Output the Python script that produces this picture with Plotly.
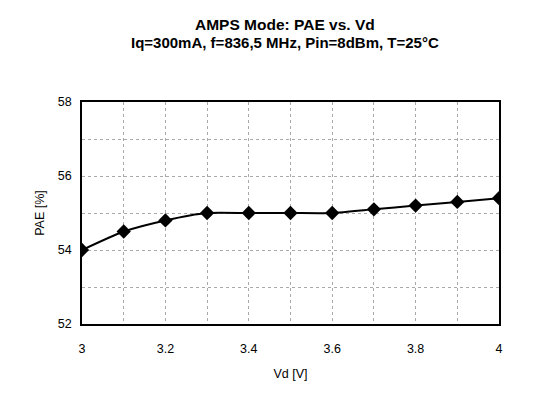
import plotly.graph_objects as go

vd = [3.0, 3.1, 3.2, 3.3, 3.4, 3.5, 3.6, 3.7, 3.8, 3.9, 4.0]
pae = [54.0, 54.5, 54.8, 55.0, 55.0, 55.0, 55.0, 55.1, 55.2, 55.3, 55.4]
title_1 = "AMPS Mode: PAE vs. Vd"
title_2 = "Iq=300mA, f=836,5 MHz, Pin=8dBm, T=25°C"

fig = go.Figure()
fig.add_trace(go.Scatter(
    x=vd, y=pae, mode="lines+markers",
    line=dict(color="black", width=2, shape="spline", smoothing=0.6),
    marker=dict(symbol="diamond", size=11, color="black"),
    showlegend=False,
))

fig.update_layout(
    width=541, height=401,
    margin=dict(l=82, r=42, t=102, b=77),
    paper_bgcolor="white", plot_bgcolor="white",
    font=dict(family="Liberation Sans, Arial, sans-serif", size=12, color="black"),
)
fig.add_annotation(text="<b>" + title_1 + "</b>", xref="paper", yref="paper",
                   x=0.487, y=1.347, xanchor="center", yanchor="middle",
                   showarrow=False, font=dict(size=15.5, color="black"))
fig.add_annotation(text="<b>" + title_2 + "</b>", xref="paper", yref="paper",
                   x=0.487, y=1.266, xanchor="center", yanchor="middle",
                   showarrow=False, font=dict(size=15, color="black"))

fig.update_xaxes(
    range=[3, 4], dtick=0.2, tick0=3,
    showline=True, linecolor="black", linewidth=1.5, mirror=True,
    showgrid=True, gridcolor="#aaaaaa", griddash="dot", gridwidth=1,
    minor=dict(dtick=0.1, showgrid=True, gridcolor="#aaaaaa", griddash="dot"),
    ticks="", ticklabelstandoff=12, zeroline=False,
    tickfont=dict(size=12.5),
    title=dict(text="Vd [V]", standoff=14, font=dict(size=12.5)),
)
fig.update_yaxes(
    range=[52, 58], dtick=2, tick0=52,
    showline=True, linecolor="black", linewidth=1.5, mirror=True,
    showgrid=True, gridcolor="#aaaaaa", griddash="dot", gridwidth=1,
    minor=dict(dtick=1, showgrid=True, gridcolor="#aaaaaa", griddash="dot"),
    ticks="", ticklabelstandoff=6, zeroline=False,
    tickfont=dict(size=12.5),
    title=dict(text="PAE [%]", standoff=10, font=dict(size=12.5)),
)

fig.write_html("out.html")
